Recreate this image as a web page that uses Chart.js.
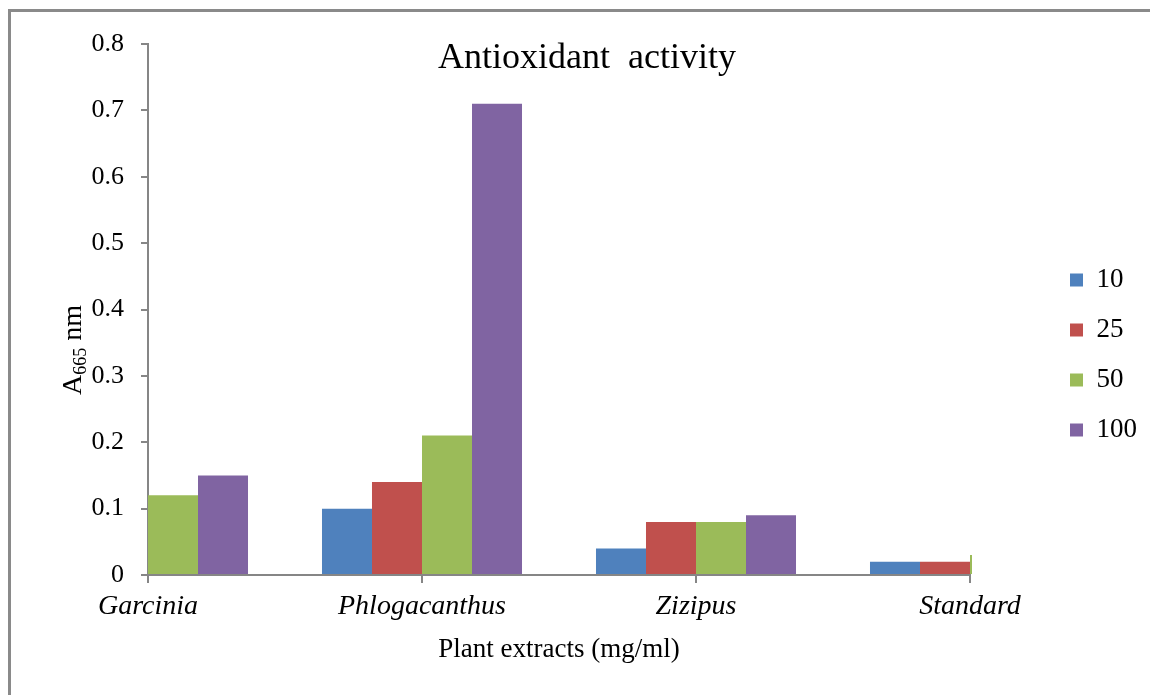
<!DOCTYPE html>
<html>
<head>
<meta charset="utf-8">
<script src="https://cdn.jsdelivr.net/npm/chart.js@4.4.1/dist/chart.umd.min.js"></script>
<style>
  html, body { margin: 0; padding: 0; background: #fff; }
  #wrap { width: 1150px; height: 695px; }
</style>
</head>
<body>
<div id="wrap"><canvas id="c"></canvas></div>
<script>
// data
const categories = ["Garcinia", "Phlogacanthus", "Zizipus", "Standard"];
const seriesLabels = ["10", "25", "50", "100"];
const conc10 = [0.09, 0.10, 0.04, 0.02];
const conc25 = [0.11, 0.14, 0.08, 0.02];
const conc50 = [0.12, 0.21, 0.08, 0.03];
const conc100 = [0.15, 0.71, 0.09, 0.04];
const yTicks = [0, 0.1, 0.2, 0.3, 0.4, 0.5, 0.6, 0.7, 0.8];

const COLORS = ["#4F81BD", "#C0504D", "#9BBB59", "#8064A2"];
const SERIF = '"Liberation Serif", "Times New Roman", serif';
const AXIS_GRAY = "#868686";

// white page with the grey frame (only top and left edges are visible)
const framePlugin = {
  id: "frame",
  beforeDraw(chart) {
    const ctx = chart.ctx;
    ctx.save();
    ctx.fillStyle = "#fff";
    ctx.fillRect(0, 0, chart.width, chart.height);
    ctx.strokeStyle = "#8a8a8a";
    ctx.lineWidth = 3;
    ctx.beginPath();
    ctx.moveTo(9.5, chart.height);
    ctx.lineTo(9.5, 10.5);
    ctx.lineTo(chart.width, 10.5);
    ctx.stroke();
    ctx.restore();
  }
};

// overlay title and the y title with a subscript
const textPlugin = {
  id: "texts",
  afterDraw(chart) {
    const ctx = chart.ctx;
    ctx.save();
    ctx.fillStyle = "#000";
    ctx.font = `36px ${SERIF}`;
    ctx.textAlign = "center";
    ctx.textBaseline = "alphabetic";
    ctx.fillText("Antioxidant  activity", 587, 68);

    // y axis title: A665 nm
    const main = `28px ${SERIF}`;
    const sub = `18px ${SERIF}`;
    ctx.font = main;
    const wA = ctx.measureText("A").width;
    const wNm = ctx.measureText(" nm").width;
    ctx.font = sub;
    const wSub = ctx.measureText("665").width;
    const total = wA + wSub + wNm;
    ctx.translate(81, 350);
    ctx.rotate(-Math.PI / 2);
    ctx.textAlign = "left";
    let x = -total / 2;
    ctx.font = main;
    ctx.fillText("A", x, 0);
    x += wA;
    ctx.font = sub;
    ctx.fillText("665", x, 5);
    x += wSub;
    ctx.font = main;
    ctx.fillText(" nm", x, 0);
    ctx.restore();
  }
};

const datasets = [conc10, conc25, conc50, conc100].map((vals, i) => ({
  label: seriesLabels[i],
  data: vals,
  backgroundColor: COLORS[i],
  borderWidth: 0,
  barPercentage: 1.0,
  categoryPercentage: 0.73,
  clip: { left: 0, top: 0, right: 2, bottom: 0 }
}));

new Chart(document.getElementById("c"), {
  type: "bar",
  data: { labels: categories, datasets },
  plugins: [framePlugin, textPlugin],
  options: {
    responsive: true,
    maintainAspectRatio: false,
    animation: false,
    layout: { padding: { top: 44, bottom: 29, left: 0, right: 3 } },
    plugins: {
      title: { display: false },
      tooltip: { enabled: false },
      legend: {
        position: "right",
        labels: {
          color: "#000",
          boxWidth: 13,
          boxHeight: 13,
          padding: 23,
          font: { family: SERIF, size: 27 }
        }
      }
    },
    scales: {
      x: {
        offset: false,
        grid: { display: true, offset: false, drawOnChartArea: false, tickLength: 8, color: AXIS_GRAY, lineWidth: 2 },
        border: { color: AXIS_GRAY, width: 2 },
        ticks: {
          color: "#000",
          padding: 7,
          maxRotation: 0,
          autoSkip: false,
          font: { family: SERIF, size: 28, style: "italic" }
        },
        title: {
          display: true,
          text: "Plant extracts (mg/ml)",
          color: "#000",
          padding: { top: 0, bottom: 0 },
          font: { family: SERIF, size: 27 }
        },
        afterFit(scale) { scale.height = 91; }
      },
      y: {
        min: 0,
        max: 0.8,
        afterBuildTicks(scale) { scale.ticks = yTicks.map(v => ({ value: v })); },
        grid: { display: true, drawOnChartArea: false, tickLength: 7, color: AXIS_GRAY, lineWidth: 2 },
        border: { color: AXIS_GRAY, width: 2 },
        ticks: {
          color: "#000",
          padding: 17,
          font: { family: SERIF, size: 26 }
        },
        afterFit(scale) { scale.width = 148; }
      },
      spacer: {
        type: "linear",
        position: "right",
        display: true,
        grid: { display: false },
        border: { display: false },
        ticks: { display: false },
        afterFit(scale) { scale.width = 77; }
      }
    }
  }
});
</script>
</body>
</html>
